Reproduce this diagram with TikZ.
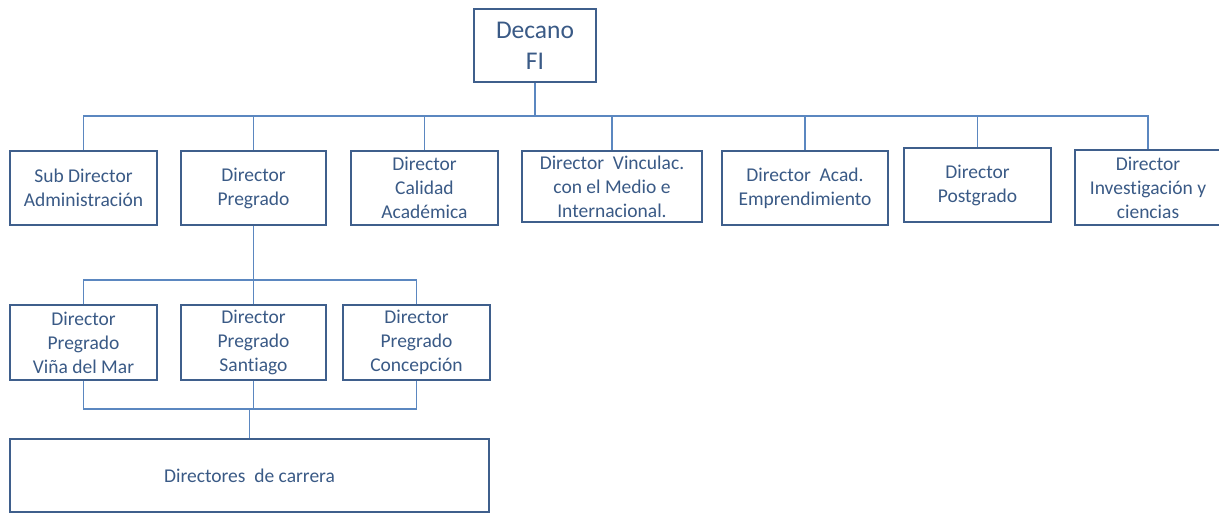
\documentclass[tikz,border=0pt]{standalone}
\usepackage{fontspec}
\setmainfont{Carlito}[Ligatures=NoCommon]
\definecolor{boxc}{HTML}{3F5F8C}
\definecolor{textc}{HTML}{3A5A86}
\definecolor{linec}{HTML}{5B87C0}
\begin{document}
\begin{tikzpicture}[x=1pt,y=-1pt,
  box/.style={draw=boxc,line width=2.4pt,inner sep=0pt,align=center,text=textc,
    font=\fontsize{19.5}{24}\selectfont,fill=white},
  conn/.style={draw=linec,line width=1.5pt}]
\useasboundingbox (0,0) rectangle (1219,515);
\fill[white] (0,0) rectangle (1219,515);
\node[box,minimum width=122pt,minimum height=73pt,font=\fontsize{25.5}{31}\selectfont] (dec) at (535,45.5) {Decano\\FI};
\node[box,minimum width=147pt,minimum height=74pt] (sub) at (83.5,188) {Sub Director\\Administración};
\node[box,minimum width=145pt,minimum height=74pt] (preg) at (253.5,188) {Director\\Pregrado};
\node[box,minimum width=147pt,minimum height=74pt] (cal) at (424.5,188) {Director\\Calidad\\Académica};
\node[box,minimum width=180pt,minimum height=71pt] (vin) at (612,186.5) {Director\ \ Vinculac.\\con el Medio e\\Internacional.};
\node[box,minimum width=166pt,minimum height=74pt] (emp) at (805,188) {Director\ \ Acad.\\Emprendimiento};
\node[box,minimum width=147pt,minimum height=74pt] (post) at (977.5,185) {Director\\Postgrado};
\node[box,minimum width=146pt,minimum height=75pt] (inv) at (1148,187.5) {Director\\Investigación y\\ciencias};
\node[box,minimum width=147pt,minimum height=75pt] (vina) at (83.5,342.5) {Director\\Pregrado\\Viña del Mar};
\node[box,minimum width=145pt,minimum height=75pt] (sant) at (253.5,342.5) {Director\\Pregrado\\Santiago};
\node[box,minimum width=147pt,minimum height=75pt] (conc) at (416.5,342.5) {Director\\Pregrado\\Concepción};
\node[box,minimum width=479pt,minimum height=73pt] (dir) at (249.5,475.5) {Directores\ \ de carrera};
\coordinate (bus1) at (0,116);
\coordinate (bus2) at (0,280);
\coordinate (bus3) at (0,409);
\draw[conn] (dec.south) -- (dec.south |- bus1);
\draw[conn] (sub.north) |- (inv.north |- bus1) -- (inv.north);
\foreach \n in {preg,cal,vin,emp,post} \draw[conn] (\n.north) -- (\n.north |- bus1);
\draw[conn] (preg.south) -- (preg.south |- bus2);
\draw[conn] (vina.north) |- (conc.north |- bus2) -- (conc.north);
\draw[conn] (sant.north) -- (sant.north |- bus2);
\draw[conn] (vina.south) |- (conc.south |- bus3) -- (conc.south);
\draw[conn] (sant.south) -- (sant.south |- bus3);
\draw[conn] (dir.north) -- (dir.north |- bus3);
\end{tikzpicture}
\end{document}
